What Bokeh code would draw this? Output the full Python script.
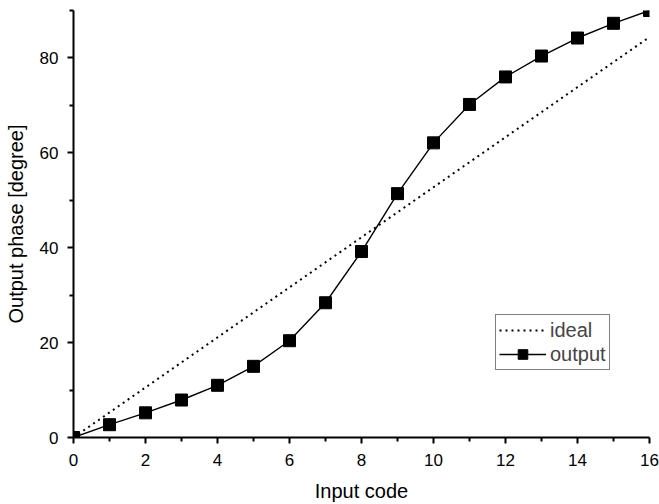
from bokeh.plotting import figure
from bokeh.models import Range1d, FixedTicker, Legend, LegendItem
from bokeh.embed import file_html
from bokeh.resources import INLINE

codes = [0, 1, 2, 3, 4, 5, 6, 7, 8, 9, 10, 11, 12, 13, 14, 15, 16]
output_phase = [0.0, 2.7, 5.2, 7.9, 11.0, 15.0, 20.4, 28.4, 39.2, 51.4, 62.1, 70.2, 76.0, 80.4, 84.2, 87.3, 90.0]
ideal_x = [0, 16]
ideal_y = [0.0, 84.4]
x_major = [0, 2, 4, 6, 8, 10, 12, 14, 16]
x_minor = [1, 3, 5, 7, 9, 11, 13, 15]
y_major = [0, 20, 40, 60, 80]
y_minor = [10, 30, 50, 70, 90]

FONT = "Liberation Sans"

p = figure(width=659, height=504, output_backend="svg", toolbar_location=None,
           x_range=Range1d(0, 16), y_range=Range1d(0, 90),
           min_border_left=73, min_border_right=10, min_border_top=10, min_border_bottom=67)
p.outline_line_color = None
p.xgrid.visible = False
p.ygrid.visible = False
p.background_fill_color = "white"
p.border_fill_color = "white"

r_ideal = p.line(ideal_x, ideal_y, line_color="black", line_width=2, line_dash="2 4")
r_line = p.line(codes, output_phase, line_color="black", line_width=1.4)
r_mark = p.scatter(codes, output_phase, marker="square", size=12, fill_color="black", line_color="black")

for ax in (p.xaxis[0], p.yaxis[0]):
    ax.axis_line_width = 2
    ax.axis_line_color = "black"
    ax.major_tick_line_width = 2
    ax.minor_tick_line_width = 2
    ax.major_tick_line_color = "black"
    ax.minor_tick_line_color = "black"
    ax.major_tick_in = 0
    ax.major_tick_out = 6
    ax.minor_tick_in = 0
    ax.minor_tick_out = 4
    ax.major_label_text_font = FONT
    ax.major_label_text_font_size = "17px"
    ax.major_label_text_color = "black"
    ax.axis_label_text_font = FONT
    ax.axis_label_text_font_size = "20px"
    ax.axis_label_text_font_style = "normal"
    ax.axis_label_text_color = "black"

p.xaxis[0].major_label_standoff = 10
p.yaxis[0].major_label_standoff = 9
p.xaxis[0].ticker = FixedTicker(ticks=x_major, minor_ticks=x_minor)
p.yaxis[0].ticker = FixedTicker(ticks=y_major, minor_ticks=y_minor)
p.xaxis[0].axis_label = "Input code"
p.yaxis[0].axis_label = "Output phase [degree]"
p.xaxis[0].axis_label_standoff = 11
p.yaxis[0].axis_label_standoff = 10

legend = Legend(items=[LegendItem(label="ideal", renderers=[r_ideal]),
                       LegendItem(label="output", renderers=[r_line, r_mark])],
                location=(422, 67), orientation="vertical",
                border_line_color="black", border_line_width=1.5,
                label_text_font=FONT, label_text_font_size="20px",
                glyph_width=47, glyph_height=24, label_height=24,
                label_standoff=4, padding=3, spacing=0, margin=0)
p.add_layout(legend, "center")

open("out.html", "w").write(file_html(p, INLINE))
